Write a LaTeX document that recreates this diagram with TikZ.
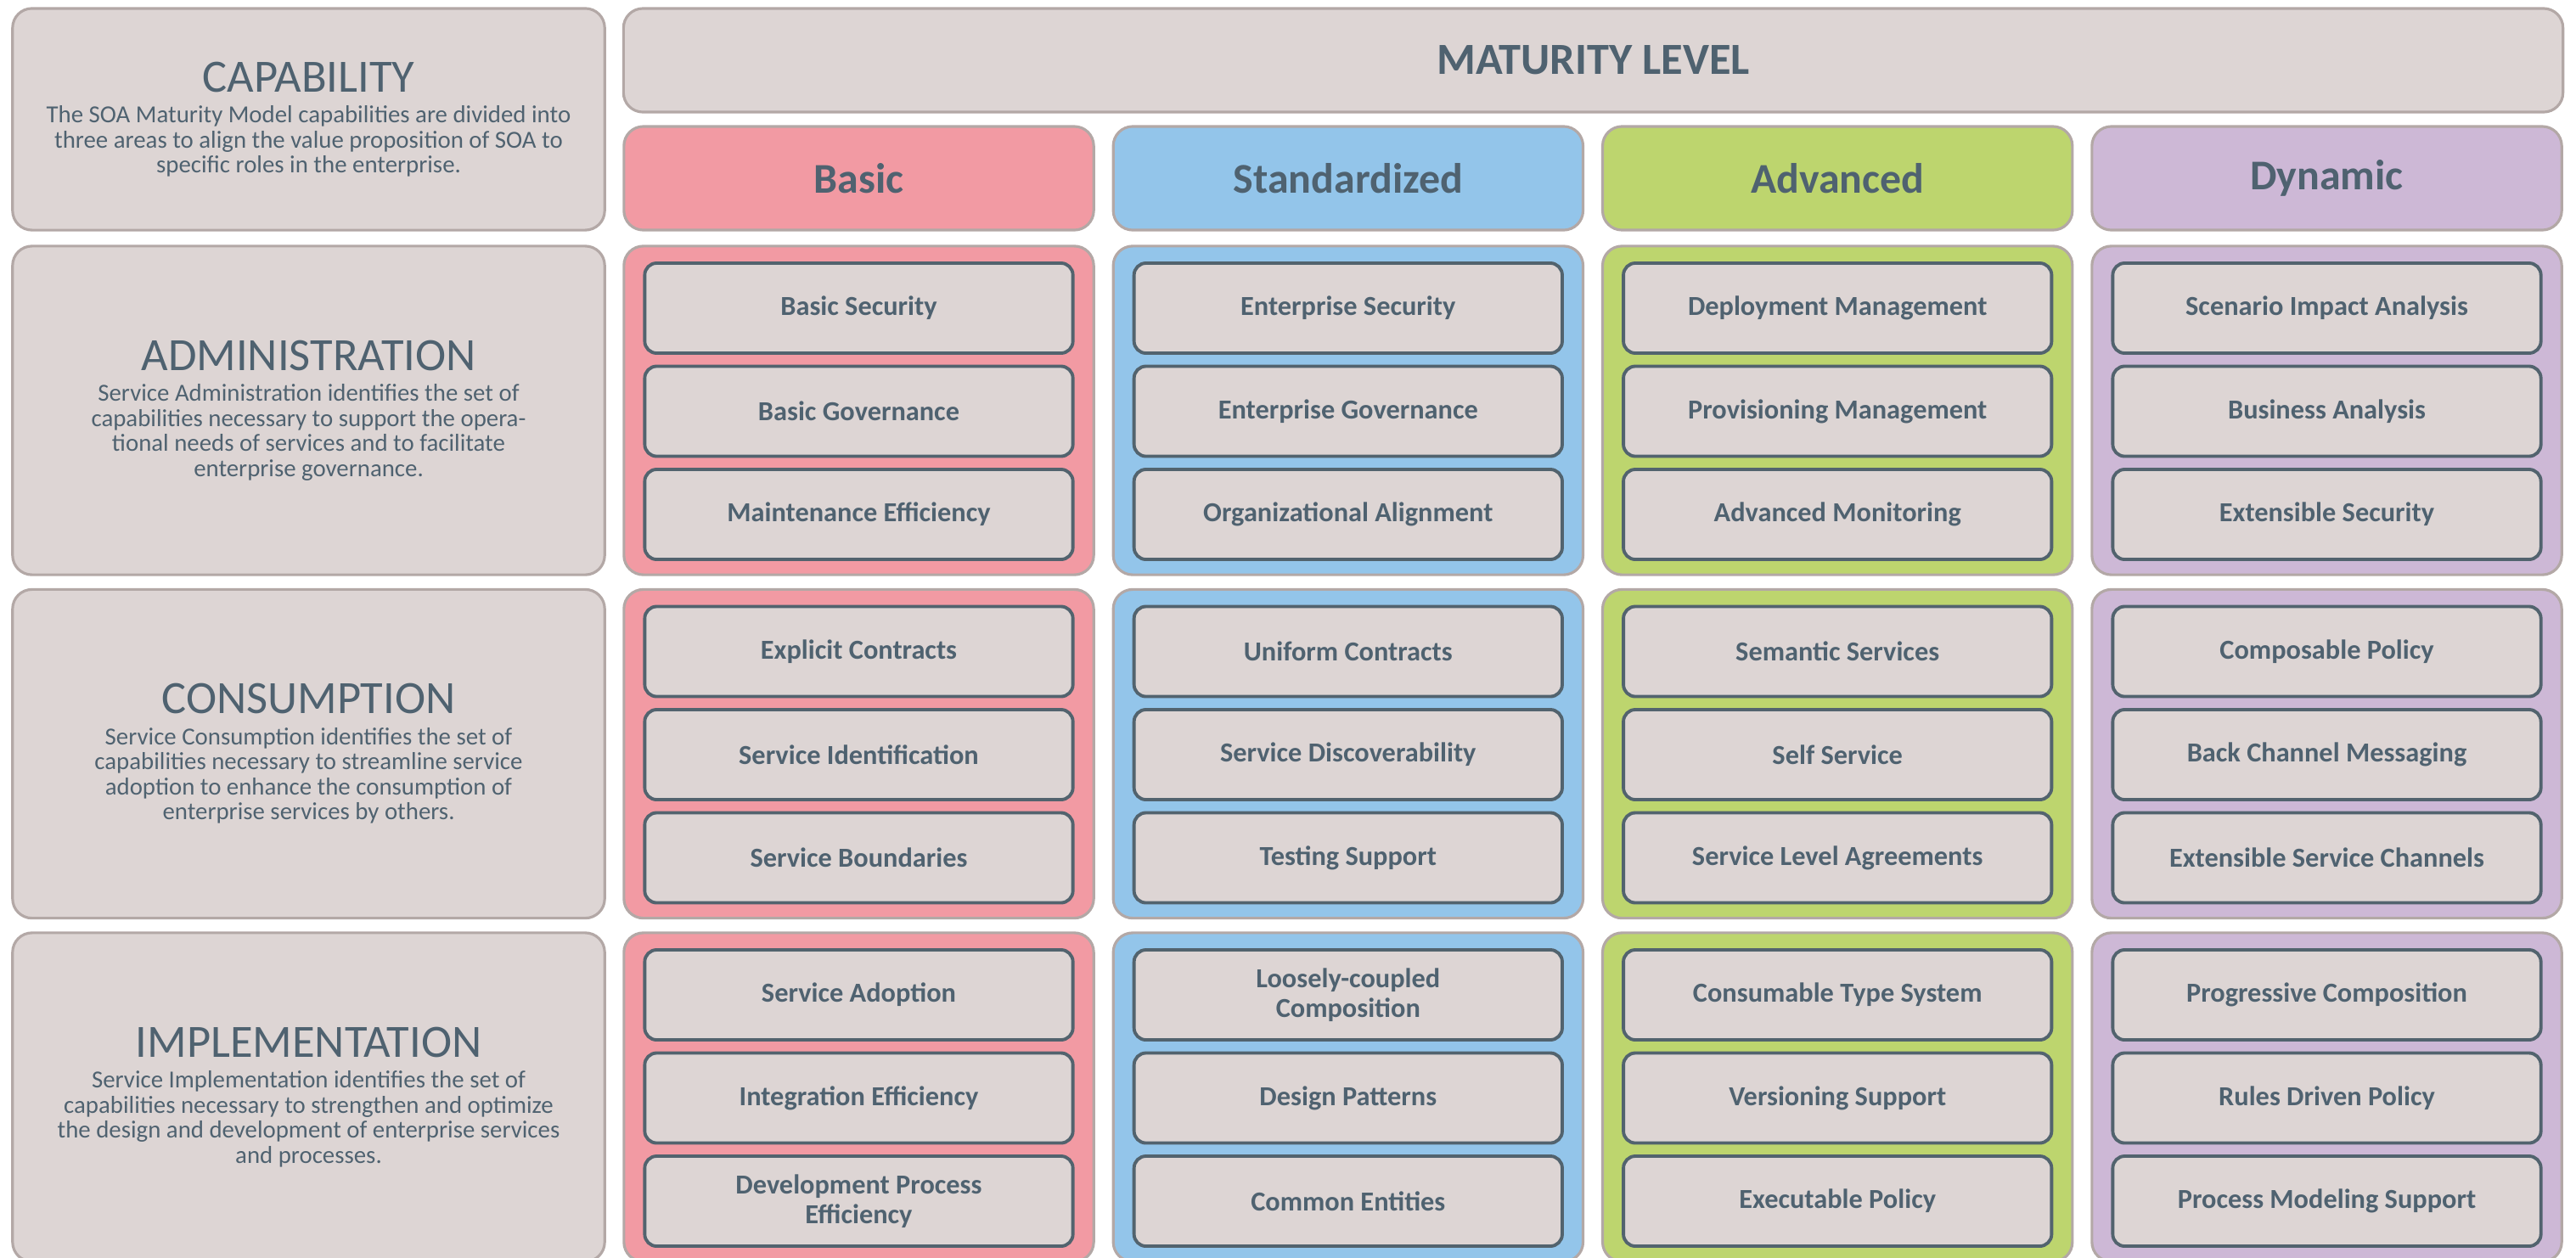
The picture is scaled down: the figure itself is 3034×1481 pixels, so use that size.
\documentclass[tikz,border=0pt]{standalone}
\usepackage{fontspec}
\setmainfont{Carlito}
\definecolor{panelgrey}{HTML}{DDD5D4}
\definecolor{rimgrey}{HTML}{B3A8A6}
\definecolor{ink}{HTML}{4F6270}
\definecolor{itemrim}{HTML}{52636E}
\definecolor{basicred}{HTML}{F29AA3}
\definecolor{stdblue}{HTML}{93C5EA}
\definecolor{advgreen}{HTML}{BDD56E}
\definecolor{dynpurple}{HTML}{CDB8D6}
\newcommand\desctext{\fontsize{8.2}{8.4}\selectfont\spaceskip=0pt\xspaceskip=0pt}
\newcommand\sidetitle{\fontsize{15.5}{17}\selectfont}
\begin{document}
\begin{tikzpicture}[x=0.01cm, y=-0.01cm,
		panel/.style={draw=rimgrey, line width=0.9pt, rounded corners=6.5pt, fill=panelgrey, text=ink, inner sep=0pt},
		sidebox/.style={panel, minimum width=6.97cm, minimum height=3.87cm, text width=6.6cm, align=flush center},
		header/.style={panel, minimum width=5.53cm, minimum height=1.22cm, font=\fontsize{14.2}{16}\selectfont\bfseries},
		cell/.style={panel, minimum width=5.53cm, minimum height=3.87cm},
		item/.style={draw=itemrim, line width=1.1pt, rounded corners=4pt, fill=panelgrey, text=ink, inner sep=0pt,
			minimum width=5.04cm, minimum height=1.06cm, align=center, font=\fontsize{9.2}{9.9}\selectfont\bfseries}]
	\useasboundingbox (0,0) rectangle (3034,1481);
	% left column
	\node[sidebox, minimum height=2.61cm] (capability) at (363.5,140.5) {{\sidetitle CAPABILITY\endgraf}\vspace{2pt}
		{\desctext The SOA Maturity Model capabilities are divided into\\ three areas to align the value proposition of SOA to\\ specific roles in the enterprise.\endgraf}};
	\foreach \row/\title/\desc [count=\j from 0] in {
		administration/ADMINISTRATION/{Service Administration identifies the set of\\ capabilities necessary to support the opera-\\ tional needs of services and to facilitate\\ enterprise governance.},
		consumption/CONSUMPTION/{Service Consumption identifies the set of\\ capabilities necessary to streamline service\\ adoption to enhance the consumption of\\ enterprise services by others.},
		implementation/IMPLEMENTATION/{Service Implementation identifies the set of\\ capabilities necessary to strengthen and optimize\\ the design and development of enterprise services\\ and processes.}}
		\node[sidebox] (\row) at ({363.5},{483.5+404.5*\j}) {{\sidetitle \title\endgraf}\vspace{2pt}
			{\desctext \desc\endgraf}};
	% maturity levels
	\node[panel, minimum width=22.83cm, minimum height=1.22cm, font=\fontsize{14.9}{16}\selectfont\bfseries] (maturity) at (1876.5,71) {MATURITY LEVEL};
	\foreach \lvl/\name/\col [count=\i from 0] in {basic/Basic/basicred, standardized/Standardized/stdblue, advanced/Advanced/advgreen, dynamic/Dynamic/dynpurple} {
		\node[header, fill=\col] (\lvl) at ({1011.5+576.33*\i},210) {\name};
		\foreach \row [count=\j from 0] in {administration,consumption,implementation}
			\node[cell, fill=\col] (\lvl-\row) at ({1011.5+576.33*\i},{483.5+404.5*\j}) {};
	}
	% capabilities per level
	\foreach \item [count=\k from 0, evaluate=\k as \j using {int(\k/3)}, evaluate=\k as \s using {mod(\k,3)}] in {Basic Security, Basic Governance, Maintenance Efficiency,
		Explicit Contracts, Service Identification, Service Boundaries,
		Service Adoption, Integration Efficiency, Development Process\\Efficiency}
		\node[item] (basic-\k) at (1011.5,{363+404.5*\j+121.5*\s}) {\item};
	\foreach \item [count=\k from 0, evaluate=\k as \j using {int(\k/3)}, evaluate=\k as \s using {mod(\k,3)}] in {Enterprise Security, Enterprise Governance, Organizational Alignment,
		Uniform Contracts, Service Discoverability, Testing Support,
		Loosely-coupled\\Composition, Design Patterns, Common Entities}
		\node[item] (standardized-\k) at (1587.8,{363+404.5*\j+121.5*\s}) {\item};
	\foreach \item [count=\k from 0, evaluate=\k as \j using {int(\k/3)}, evaluate=\k as \s using {mod(\k,3)}] in {Deployment Management, Provisioning Management, Advanced Monitoring,
		Semantic Services, Self Service, Service Level Agreements,
		Consumable Type System, Versioning Support, Executable Policy}
		\node[item] (advanced-\k) at (2164.2,{363+404.5*\j+121.5*\s}) {\item};
	\foreach \item [count=\k from 0, evaluate=\k as \j using {int(\k/3)}, evaluate=\k as \s using {mod(\k,3)}] in {Scenario Impact Analysis, Business Analysis, Extensible Security,
		Composable Policy, Back Channel Messaging, Extensible Service Channels,
		Progressive Composition, Rules Driven Policy, Process Modeling Support}
		\node[item] (dynamic-\k) at (2740.5,{363+404.5*\j+121.5*\s}) {\item};
\end{tikzpicture}
\end{document}
